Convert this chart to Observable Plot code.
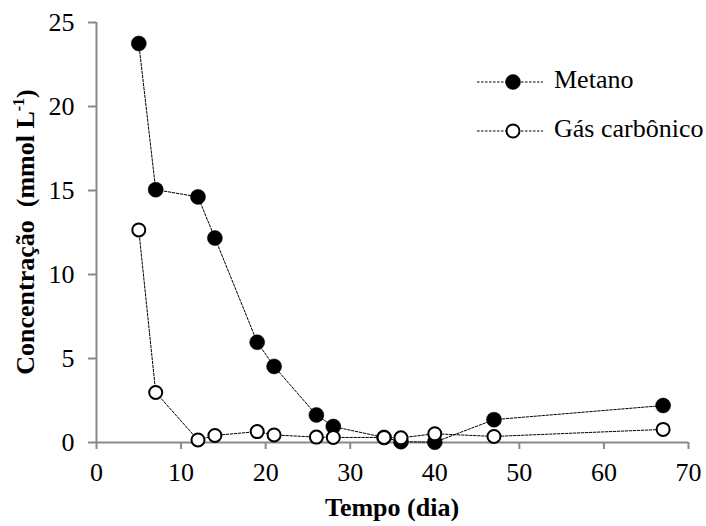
<!DOCTYPE html>
<html>
<head>
<meta charset="utf-8">
<script src="https://cdn.jsdelivr.net/npm/d3@7"></script>
<script src="https://cdn.jsdelivr.net/npm/@observablehq/plot@0.6"></script>
<style>
  html, body { margin: 0; padding: 0; background: #fff; }
  #wrap { position: relative; width: 706px; height: 526px; font-family: "Liberation Serif", "Times New Roman", serif; }
</style>
</head>
<body>
<div id="wrap"></div>
<script>
const days = [5, 7, 12, 14, 19, 21, 26, 28, 34, 36, 40, 47, 67];
const metano = [23.75, 15.05, 14.62, 12.17, 5.97, 4.53, 1.64, 0.95, 0.3, 0.05, 0.02, 1.36, 2.2];
const gasCarbonico = [12.65, 2.98, 0.15, 0.42, 0.65, 0.45, 0.32, 0.3, 0.3, 0.28, 0.52, 0.36, 0.78];
const xTicks = [0, 10, 20, 30, 40, 50, 60, 70];
const yTicks = [0, 5, 10, 15, 20, 25];
const seriesNames = ["Metano", "Gás carbônico"];

const dataMet = days.map((d, i) => ({x: d, y: metano[i]}));
const dataGas = days.map((d, i) => ({x: d, y: gasCarbonico[i]}));

const axisGray = "#898989";
const font = "'Liberation Serif', 'Times New Roman', serif";
const fs = 26;

const chart = Plot.plot({
  width: 706,
  height: 526,
  marginLeft: 96,
  marginRight: 18,
  marginTop: 22,
  marginBottom: 84,
  style: {fontFamily: font, fontSize: fs + "px", color: "#000", background: "#fff"},
  x: {domain: [0, 70]},
  y: {domain: [0, 25]},
  marks: [
    Plot.ruleX([0], {stroke: axisGray, strokeWidth: 2}),
    Plot.ruleY([0], {stroke: axisGray, strokeWidth: 2}),
    Plot.axisX({ticks: xTicks, tickSize: 7, tickPadding: 13, stroke: axisGray, strokeWidth: 2, fill: "#000", label: null, fontSize: fs, fontFamily: font}),
    Plot.axisY({ticks: yTicks, tickSize: 8, tickPadding: 14, stroke: axisGray, strokeWidth: 2, fill: "#000", label: null, fontSize: fs, fontFamily: font}),
    Plot.line(dataMet, {x: "x", y: "y", stroke: "#000", strokeWidth: 1, strokeDasharray: "2.5,1.5"}),
    Plot.line(dataGas, {x: "x", y: "y", stroke: "#000", strokeWidth: 1, strokeDasharray: "2.5,1.5"}),
    Plot.dot(dataMet, {x: "x", y: "y", r: 7.5, fill: "#000", stroke: "#000", strokeWidth: 0.5}),
    Plot.dot(dataGas, {x: "x", y: "y", r: 6.5, fill: "#fff", stroke: "#000", strokeWidth: 2})
  ]
});

const wrap = document.getElementById("wrap");
wrap.appendChild(chart);

const svg = d3.select(chart);

// Y axis title with superscript
const yl = svg.append("text")
  .attr("transform", "translate(34,232) rotate(-90)")
  .attr("text-anchor", "middle")
  .attr("font-family", font)
  .attr("font-size", fs)
  .attr("font-weight", "bold")
  .attr("fill", "#000")
  .style("white-space", "pre");
yl.append("tspan").text("Concentração  (mmol L");
yl.append("tspan").attr("dy", -10).attr("font-size", 16).text("-1");
yl.append("tspan").attr("dy", 10).text(")");

// X axis title
svg.append("text")
  .attr("x", 392)
  .attr("y", 516)
  .attr("text-anchor", "middle")
  .attr("font-family", font)
  .attr("font-size", fs)
  .attr("font-weight", "bold")
  .attr("fill", "#000")
  .text("Tempo (dia)");

// Legend
const lg = svg.append("g").attr("font-family", font).attr("font-size", fs).attr("text-anchor", "start");
seriesNames.forEach((name, i) => {
  const cy = 82 + i * 49;
  lg.append("line")
    .attr("x1", 477).attr("x2", 543).attr("y1", cy).attr("y2", cy)
    .attr("stroke", "#000").attr("stroke-width", 1).attr("stroke-dasharray", "2.5,1.5");
  lg.append("circle")
    .attr("cx", 513).attr("cy", cy)
    .attr("r", i === 0 ? 7.5 : 6.5)
    .attr("fill", i === 0 ? "#000" : "#fff")
    .attr("stroke", "#000").attr("stroke-width", i === 0 ? 0.5 : 2);
  lg.append("text")
    .attr("x", 554).attr("y", cy + 6)
    .attr("text-anchor", "start")
    .attr("fill", "#000")
    .text(name);
});
</script>
</body>
</html>
